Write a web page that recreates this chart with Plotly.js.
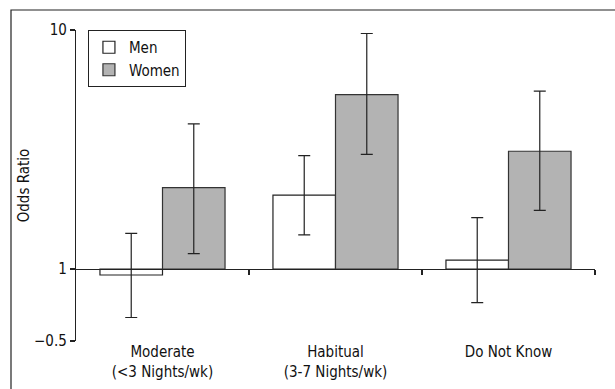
<!DOCTYPE html>
<html>
<head>
<meta charset="utf-8">
<script src="https://cdn.plot.ly/plotly-3.0.1.min.js"></script>
<style>html,body{margin:0;padding:0;background:#fff;}#chart{width:615px;height:389px;}</style>
</head>
<body>
<div id="chart"></div>
<script>
// Data
var categories = ["Moderate<br>(&lt;3 Nights/wk)", "Habitual<br>(3-7 Nights/wk)", "Do Not Know"];
var menOR = [0.944, 2.04, 1.09];
var menHi = [1.41, 2.98, 1.64];
var menLo = [0.627, 1.39, 0.724];
var womenOR = [2.19, 5.37, 3.11];
var womenHi = [4.05, 9.67, 5.55];
var womenLo = [1.16, 3.02, 1.76];
var yTickVals = [0.5, 1, 10];
var yTickText = ["\u22120.5", "1", "10"];
var boundaries = [0.5, 1.5, 2.5];

function diff(a, b) { return a.map(function (v, i) { return v - b[i]; }); }
function minusOne(a) { return a.map(function (v) { return v - 1; }); }

var FONT = "'DejaVu Sans Condensed', 'Roboto', sans-serif";

var men = {
  type: 'bar', name: 'Men', x: categories, y: minusOne(menOR), base: 1,
  marker: {color: '#ffffff', line: {color: '#222', width: 1.2}},
  error_y: {type: 'data', symmetric: false, array: diff(menHi, menOR), arrayminus: diff(menOR, menLo), color: '#222', thickness: 1.2, width: 6},
  hoverinfo: 'skip'
};
var women = {
  type: 'bar', name: 'Women', x: categories, y: minusOne(womenOR), base: 1,
  marker: {color: '#b3b3b3', line: {color: '#333', width: 1.2}},
  error_y: {type: 'data', symmetric: false, array: diff(womenHi, womenOR), arrayminus: diff(womenOR, womenLo), color: '#222', thickness: 1.2, width: 6},
  hoverinfo: 'skip'
};
var lineHolder = {
  type: 'scatter', mode: 'markers', x: [0], y: [1], xaxis: 'x2', yaxis: 'y',
  marker: {opacity: 0}, showlegend: false, hoverinfo: 'skip'
};

var yMin = Math.log10(0.5), yMax = 1;
var onePos = (0 - yMin) / (yMax - yMin);

var layout = {
  width: 615, height: 389,
  margin: {l: 76, r: 20, t: 30, b: 48},
  paper_bgcolor: '#fff', plot_bgcolor: '#fff',
  font: {family: FONT, size: 15, color: '#111'},
  barmode: 'group', bargap: 0.277, bargroupgap: 0,
  showlegend: true,
  legend: {x: 0.023, y: 1, xanchor: 'left', yanchor: 'top', bordercolor: '#222', borderwidth: 1,
           bgcolor: '#fff', font: {family: FONT, size: 15}, tracegroupgap: 0},
  xaxis: {type: 'category', range: [-0.5, 2.5], showline: false, ticks: '', showgrid: false,
          zeroline: false, tickfont: {family: FONT, size: 15}},
  xaxis2: {type: 'linear', overlaying: 'x', anchor: 'free', position: onePos, range: [-0.5, 2.5],
           showline: true, linecolor: '#222', linewidth: 1.2, ticks: 'outside', ticklen: 5, tickwidth: 1.2,
           tickcolor: '#222', tickvals: boundaries, showticklabels: false, showgrid: false, zeroline: false},
  yaxis: {type: 'log', range: [yMin, yMax], tickvals: yTickVals, ticktext: yTickText,
          showline: true, linecolor: '#222', linewidth: 1.2, ticks: 'outside', ticklen: 5, tickwidth: 1.2,
          tickcolor: '#222', showgrid: false, zeroline: false, tickfont: {family: FONT, size: 15},
          title: {text: 'Odds Ratio', font: {family: FONT, size: 15}, standoff: 0}},
  shapes: [{type: 'rect', xref: 'paper', yref: 'paper', x0: (11 - 76) / 519, x1: (616 - 76) / 519,
            y0: (341 - 400) / 311, y1: 1 + 20 / 311, line: {color: '#222', width: 1.2}}]
};

Plotly.newPlot('chart', [men, women, lineHolder], layout, {displayModeBar: false, staticPlot: true});
</script>
</body>
</html>
